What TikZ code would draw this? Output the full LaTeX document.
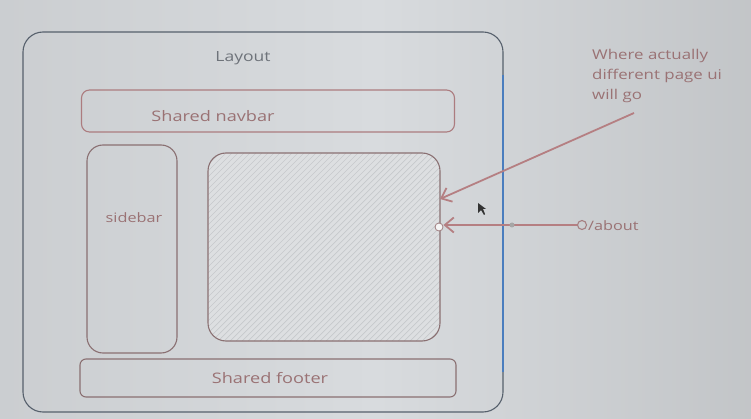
\documentclass[tikz,border=0pt]{standalone}
\usepackage{fontspec}
\setmainfont{Open Sans}[FakeStretch=1.25]
\usetikzlibrary{arrows.meta,calc}
\definecolor{bgc}{HTML}{D8DBDE}
\definecolor{boxc}{HTML}{8A7072}
\definecolor{redc}{HTML}{B57F82}
\definecolor{txtc}{HTML}{9A7274}
\definecolor{grayt}{HTML}{6E737A}
\definecolor{layc}{HTML}{56606C}
\definecolor{bluec}{HTML}{4A7DBE}
\definecolor{hatchc}{HTML}{C6C9CC}
\definecolor{innerc}{HTML}{DDDFE1}
\begin{document}
\begin{tikzpicture}[x=1pt,y=-1pt,
  box/.style={draw=boxc,line width=1.1pt,rounded corners=#1,inner sep=0pt},
  lbl/.style={text=txtc,font=\fontsize{13}{15}\selectfont,inner sep=0pt},
  conn/.style={draw=redc,line width=1.8pt,-{Straight Barb[length=9pt,width=15pt]}}]
\useasboundingbox (0,0) rectangle (751,419);
\shade[left color=bgc!94!black,right color=bgc!90!black,middle color=bgc] (0,0) rectangle (751,419);
% layout
\node[box=20pt,draw=layc,minimum width=480pt,minimum height=380pt] (layout) at (263,222) {};
\coordinate (blueA) at (503,75);
\coordinate (blueB) at (503,372);
\draw[bluec,line width=2pt] (blueA) -- (blueB);
\node[lbl,text=grayt,font=\fontsize{14}{16}\selectfont] (laytxt) at (243,58) {Layout};
% navbar
\node[box=8pt,draw=redc!80!boxc,minimum width=373pt,minimum height=42pt] (nav) at (268,111) {};
\node[lbl,font=\fontsize{14.5}{16}\selectfont] (navtxt) at (213,116) {Shared navbar};
% sidebar
\node[box=16pt,minimum width=90pt,minimum height=208pt] (side) at (132,249) {};
\node[lbl] (sidetxt) at (134,218) {sidebar};
% content
\fill[innerc,rounded corners=18pt] (208,153) rectangle (440,341);
\begin{scope}
\clip[rounded corners=18pt] (208,153) rectangle (440,341);
\foreach \i in {-200,-194,...,240}{
  \draw[hatchc,line width=0.7pt] (208+\i,341) -- (208+\i+188,153);
}
\end{scope}
\node[box=18pt,minimum width=232pt,minimum height=188pt] (content) at (324,247) {};
% footer
\node[box=6pt,minimum width=376pt,minimum height=38pt] (foot) at (268,378) {};
\node[lbl,font=\fontsize{14.5}{16}\selectfont] (foottxt) at (270,378) {Shared footer};
% note
\node[lbl,align=left,anchor=north west,font=\fontsize{13.5}{20}\selectfont] (note) at (592,49) {Where actually\\different page ui\\will go};
\coordinate (noteend) at (634,113);
\coordinate (target1) at (440,199);
\draw[conn] (noteend) -- (target1);
% about
\node[draw=redc!70!gray,line width=1.1pt,circle,minimum size=9pt,inner sep=0pt] (aboutc) at (582,225) {};
\node[lbl,anchor=west] (abouttxt) at (588,226) {/about};
\node[draw=redc!60!gray,fill=white!92!gray,line width=0.8pt,circle,minimum size=8pt,inner sep=0pt] (edgedot) at (439,227) {};
\coordinate (mid) at (512,225);
\draw[conn] (aboutc.west) -- (edgedot.east |- aboutc.west);
\fill[gray!70] (mid) circle (2.5pt);
% cursor
\fill[black!80] (478,203) -- (478,213) -- (481,210) -- (484,215) -- (485,214) -- (483,209) -- (486,209) -- cycle;
\end{tikzpicture}
\end{document}
